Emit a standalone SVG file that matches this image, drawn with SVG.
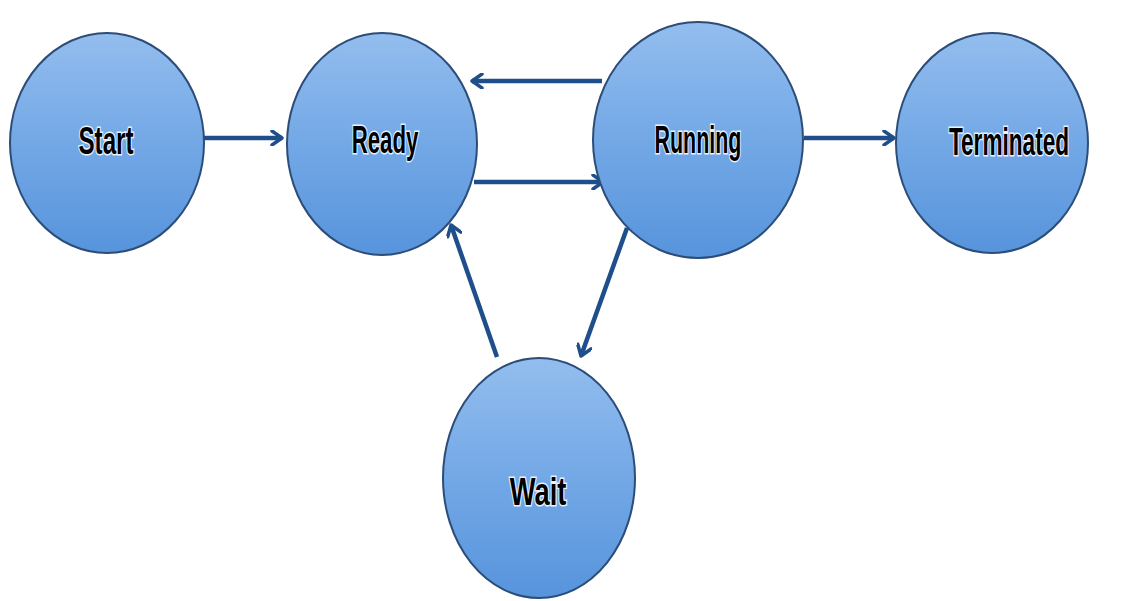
<svg xmlns="http://www.w3.org/2000/svg" width="1141" height="601" viewBox="0 0 1141 601">
<defs>
<linearGradient id="g" x1="0" y1="0" x2="0" y2="1">
<stop offset="0" stop-color="#93bdee"/>
<stop offset="0.5" stop-color="#73a8e6"/>
<stop offset="1" stop-color="#5794dc"/>
</linearGradient>
<marker id="ah" viewBox="0 0 16 16" refX="13" refY="8" markerWidth="16" markerHeight="16" markerUnits="userSpaceOnUse" orient="auto">
<path d="M3,1 L13,8 L3,15" fill="none" stroke="#1f4f8a" stroke-width="3.5" stroke-linecap="round" stroke-linejoin="round"/>
</marker>
</defs>
<style>
.node{fill:url(#g);stroke:#2c4d78;stroke-width:2}
.lbl{font-family:"Liberation Sans",Arial,sans-serif;font-weight:bold;font-size:39px;fill:#000;stroke:#e6f3ff;stroke-width:3;paint-order:stroke;text-anchor:middle}
.edge{stroke:#1f4f8a;stroke-width:4.5;fill:none;marker-end:url(#ah)}
</style>
<rect width="1141" height="601" fill="#fff"/>
<g id="connectors">
<line class="edge" x1="204" y1="138" x2="282" y2="138"/>
<line class="edge" x1="602" y1="81" x2="472" y2="81"/>
<line class="edge" x1="474" y1="182" x2="603" y2="182"/>
<line class="edge" x1="804" y1="138" x2="894" y2="138"/>
<line class="edge" x1="497" y1="357" x2="451" y2="225"/>
<line class="edge" x1="627" y1="228" x2="581" y2="356"/>
</g>
<g id="start"><ellipse class="node" cx="107" cy="143" rx="97" ry="110"/><text class="lbl" transform="translate(106 154) scale(0.62 1)">Start</text></g>
<g id="ready"><ellipse class="node" cx="382" cy="144" rx="95" ry="111"/><text class="lbl" transform="translate(385 153) scale(0.57 1)">Ready</text></g>
<g id="running"><ellipse class="node" cx="698" cy="140" rx="105" ry="118"/><text class="lbl" transform="translate(698 153) scale(0.55 1)">Running</text></g>
<g id="terminated"><ellipse class="node" cx="992" cy="143" rx="96" ry="110"/><text class="lbl" transform="translate(1009 155) scale(0.58 1)">Terminated</text></g>
<g id="wait"><ellipse class="node" cx="539" cy="478" rx="96" ry="120"/><text class="lbl" transform="translate(538 505) scale(0.7 1)">Wait</text></g>
</svg>
